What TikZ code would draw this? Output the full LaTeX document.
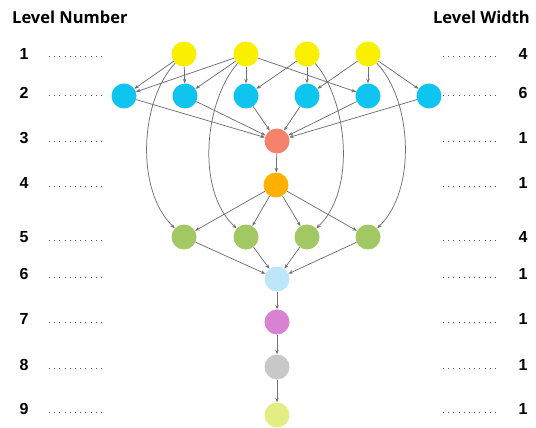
\documentclass[tikz,border=0pt]{standalone}
\usepackage{fontspec}
\setmainfont{Liberation Sans}
\newfontfamily\headfont{Open Sans}
\usetikzlibrary{arrows.meta}
\definecolor{cyel}{HTML}{F8F000}
\definecolor{cblu}{HTML}{10C4F0}
\definecolor{cred}{HTML}{F5826A}
\definecolor{corg}{HTML}{FFB000}
\definecolor{cgrn}{HTML}{A2C864}
\definecolor{clbl}{HTML}{BDE6FA}
\definecolor{cpur}{HTML}{D982D2}
\definecolor{cgry}{HTML}{C8C8C8}
\definecolor{clyg}{HTML}{E2EE84}
\definecolor{cedge}{HTML}{707070}
\tikzset{
  vert/.style={circle,minimum size=25pt,inner sep=0pt,draw=none},
  edge/.style={draw=cedge,line width=0.75pt,-{Stealth[length=4.5pt,width=3.5pt]}},
  dots/.style={line width=1pt,dash pattern=on 0.8pt off 4.4pt,draw=black!70},
  num/.style={font=\bfseries\fontsize{16}{18}\selectfont,inner sep=0pt},
  head/.style={font=\headfont\bfseries\fontsize{16.5}{19}\selectfont,inner sep=0pt}
}
\begin{document}
\begin{tikzpicture}[x=1pt,y=-1pt]
\useasboundingbox (0,0) rectangle (536,428);
% headers
\node[head,anchor=west] (hl) at (12,17) {Level Number};
\node[head,anchor=east] (hr) at (530,17) {Level Width};
% level rows
\foreach \y/\n/\w [count=\i] in {54/1/4,93/2/6,138/3/1,183/4/1,237/5/4,274/6/1,319/7/1,365/8/1,409/9/1}{
  \node[num] (ln\i) at (24,\y) {\n};
  \node[num] (rn\i) at (523,\y) {\w};
  \coordinate (la\i) at (49,\y+3);
  \coordinate (lb\i) at (106,\y+3);
  \coordinate (ra\i) at (443,\y+3);
  \coordinate (rb\i) at (500,\y+3);
  \draw[dots] (la\i) -- (lb\i);
  \draw[dots] (ra\i) -- (rb\i);
}
% nodes
\foreach \x [count=\i] in {184,246,307,368}{
  \node[vert,fill=cyel] (Y\i) at (\x,54) {};
  \node[vert,fill=cgrn] (G\i) at (\x,237) {};
}
\foreach \x [count=\i] in {124,185,246,307,368,429}{
  \node[vert,fill=cblu] (B\i) at (\x,96) {};
}
\node[vert,fill=cred] (R) at (277,141) {};
\node[vert,fill=corg] (O) at (276,185) {};
\node[vert,fill=clbl] (L) at (277,279) {};
\node[vert,fill=cpur] (P) at (277,322) {};
\node[vert,fill=cgry] (S) at (277,367) {};
\node[vert,fill=clyg] (T) at (277,415) {};
% level 1 -> 2
\foreach \a/\b in {Y1/B1,Y1/B2,Y2/B1,Y2/B2,Y2/B3,Y2/B5,Y3/B3,Y3/B4,Y4/B4,Y4/B5,Y4/B6}{
  \draw[edge] (\a) -- (\b);
}
% level 2 -> 3
\foreach \i in {1,...,6}{ \draw[edge] (B\i) -- (R); }
\draw[edge] (R) -- (O);
\foreach \i in {1,...,4}{ \draw[edge] (O) -- (G\i); \draw[edge] (G\i) -- (L); }
\draw[edge] (L) -- (P);
\draw[edge] (P) -- (S);
\draw[edge] (S) -- (T);
% long curves
\draw[edge] (Y1) .. controls (140,100) and (135,190) .. (G1);
\draw[edge] (Y2) .. controls (205,100) and (195,190) .. (G2);
\draw[edge] (Y3) .. controls (347,100) and (357,190) .. (G3);
\draw[edge] (Y4) .. controls (412,100) and (417,190) .. (G4);
\end{tikzpicture}
\end{document}
